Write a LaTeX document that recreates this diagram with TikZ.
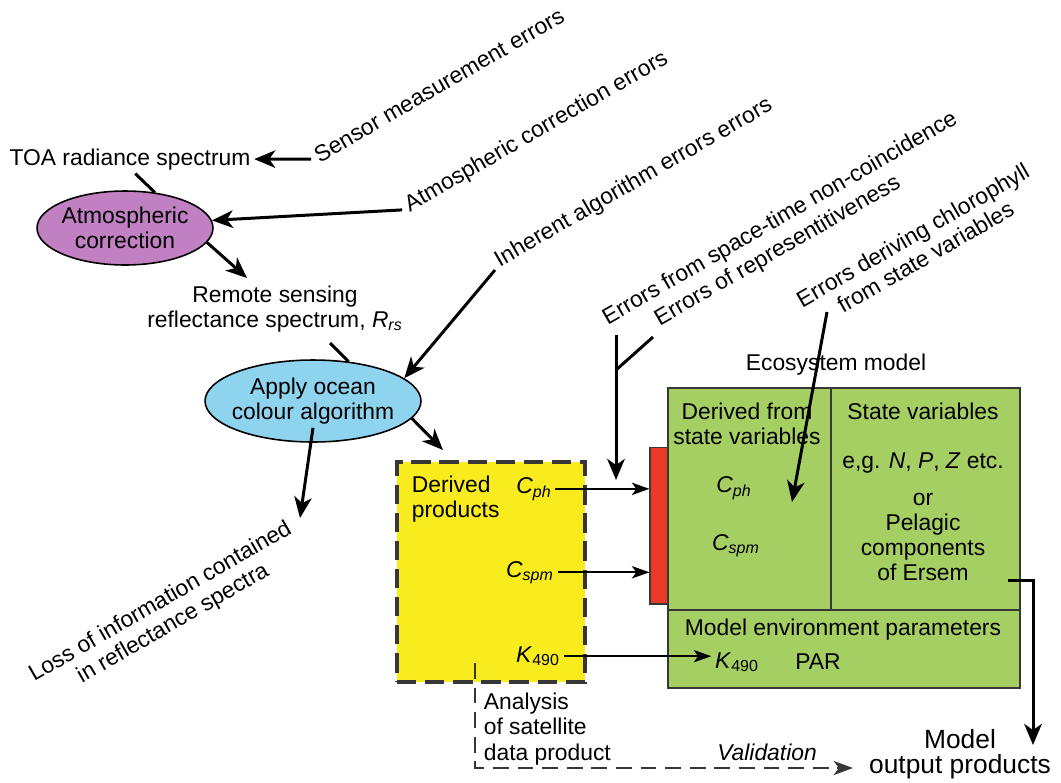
\documentclass[tikz,border=0pt]{standalone}
\usepackage{fontspec}
\setmainfont{Liberation Sans}
\definecolor{atmospurple}{RGB}{193,128,193}
\definecolor{oceanblue}{RGB}{143,212,238}
\definecolor{prodyellow}{RGB}{248,235,30}
\definecolor{ecogreen}{RGB}{166,207,99}
\definecolor{barred}{RGB}{236,58,40}
\definecolor{edgegray}{RGB}{55,55,55}
\usetikzlibrary{calc, arrows.meta, shapes.geometric}

\begin{document}
\begin{tikzpicture}[x=0.02cm, y=-0.02cm,
    every node/.style={font=\fontsize{13}{14.3}\selectfont},
    txt/.style={inner sep=2pt, align=center},
    tilted/.style={inner sep=3pt, anchor=base west, rotate=30},
    bubble/.style={ellipse, draw=black, line width=0.9pt, align=center, inner sep=0pt},
    prodbox/.style={draw=edgegray, fill=prodyellow, line width=1.8pt,
      dash pattern=on 11pt off 5pt},
    panel/.style={draw=edgegray, line width=1.5pt},
    arrow/.style={-{Stealth[length=12pt, width=10pt, inset=3.5pt]}, line width=1.7pt},
    feed/.style={-{Stealth[length=10pt, width=7pt, inset=2.5pt]}, line width=1.2pt},
    link/.style={line width=1.7pt},
    dashlink/.style={-{Stealth[length=11pt, width=8pt, inset=3pt]}, line width=1.6pt,
      dash pattern=on 9pt off 5pt, edgegray},
  ]
  \useasboundingbox (0,0) rectangle (1061,782);

  % retrieval chain
  \node[txt, anchor=base] (toa) at (130,165) {TOA radiance spectrum};
  \node[bubble, fill=atmospurple, inner xsep=-2pt, minimum width=3.52cm, minimum height=1.48cm] (atmos) at (125,228) {Atmospheric\\correction};
  \node[txt] (remote) at (275,309) {Remote sensing\\reflectance spectrum, \textit{R\textsubscript{rs}}};
  \node[bubble, fill=oceanblue, inner xsep=-4pt, minimum width=4.32cm, minimum height=1.64cm] (apply) at (313,401) {Apply ocean\\colour algorithm};

  % error sources
  \node[tilted] (sensor) at (315,166) {Sensor measurement errors};
  \node[tilted] (atmerr) at (405,215) {Atmospheric correction errors};
  \node[tilted] (inherent) at (495,270) {Inherent algorithm errors errors};
  \node[tilted] (spacetime) at (603,328) {Errors from space-time non-coincidence};
  \node[tilted] (repres) at (655,329) {Errors of representitiveness};
  \node[tilted, anchor=center, align=center] (deriving) at (919,246) {Errors deriving chlorophyll\\from state variables};
  \node[tilted, anchor=center, align=center] (loss) at (167,613) {Loss of information contained\\in reflectance spectra};

  % satellite products
  \node[prodbox, minimum width=3.76cm, minimum height=4.4cm] (derived) at (491,572) {};
  \node[txt, anchor=west, align=left] (prodlab) at (408,499) {Derived\\products};
  \node[txt, anchor=base] (cphy) at (534,493) {\textit{C\textsubscript{ph}}};
  \node[txt, anchor=base] (cspmy) at (530,577) {\textit{C\textsubscript{spm}}};
  \node[txt, anchor=base] (k490y) at (538,662) {\textit{K}\textsubscript{490}};

  % ecosystem model
  \node[draw=edgegray, fill=barred, line width=0.6pt, minimum width=0.36cm, minimum height=3.14cm] (bar) at (659,525.5) {};
  \node[panel, fill=ecogreen, minimum width=7.04cm, minimum height=6cm] (eco) at (844,538) {};
  \draw[edgegray, line width=1.1pt] (668,610) -- (1020,610) (831,388) -- (831,610);
  \node[txt, anchor=base] (ecolab) at (836,370) {Ecosystem model};
  \node[txt] (fromstate) at (747,424) {Derived from\\state variables};
  \node[txt, anchor=base] (cphg) at (734,492) {\textit{C\textsubscript{ph}}};
  \node[txt, anchor=base] (cspmg) at (736,550) {\textit{C\textsubscript{spm}}};
  \node[txt, anchor=base] (statevar) at (923,419) {State variables};
  \node[txt, anchor=base] (eg) at (923,468) {e,g. \textit{N}, \textit{P}, \textit{Z} etc.};
  \node[txt] (pelagic) at (923,537) {or\\Pelagic\\components\\of Ersem};
  \node[txt, anchor=base] (envpar) at (843,635) {Model environment parameters};
  \node[txt, anchor=base] (k490g) at (737,668) {\textit{K}\textsubscript{490}};
  \node[txt, anchor=base] (par) at (818,669) {PAR};

  % outputs
  \node[txt, font=\fontsize{15}{14.5}\selectfont] (output) at (960,754) {Model\\output products};
  \node[txt, anchor=base, font=\fontsize{13}{14.3}\selectfont\itshape] (valid) at (767,760) {Validation};
  \node[txt, anchor=west, align=left] (analysis) at (480,729) {Analysis\\of satellite\\data product};

  \coordinate (rrsin) at (247,278);
  \coordinate (rrsout) at (330,343);
  \coordinate (prodin) at (443,450);
  \coordinate (losstip) at (300,518);
  \coordinate (forktop) at (616,335);
  \coordinate (fork) at (616,370);
  \coordinate (forkarm) at (653,337);
  \coordinate (forktip) at (616,480);
  \coordinate (chltail) at (827,312);
  \coordinate (chltip) at (792,502);
  \coordinate (ersemout) at (1008,580);
  \coordinate (outtip) at (1033,745);
  \coordinate (anatop) at (475,663);
  \coordinate (validtip) at (853,768);

  \draw[arrow] (sensor.west) -- (toa.east);
  \draw[link] ([xshift=3pt]toa.south) -- (atmos.50);
  \draw[arrow] (atmerr.west) -- (atmos.5);
  \draw[arrow] (atmos.-10) -- (rrsin);
  \draw[link] (rrsout) -- (apply.48);
  \draw[arrow] (inherent.base west) -- (apply.14);
  \draw[arrow] (apply.-10) -- (prodin);
  \draw[arrow] ([yshift=8.5pt]apply.south) -- (losstip);

  \draw[arrow] (forktop) -- (forktip);
  \draw[link] (fork) -- (forkarm);
  \draw[arrow] (chltail) -- (chltip);

  \draw[feed] (cphy.east) -- (cphy.east -| bar.west);
  \draw[feed] (cspmy.east) -- (cspmy.east -| bar.west);
  \draw[feed] (k490y.east) -- (k490y.east -| k490g.west);
  \draw[arrow] (ersemout) -| (outtip);
  \draw[dashlink] (anatop) |- (validtip);
\end{tikzpicture}
\end{document}
